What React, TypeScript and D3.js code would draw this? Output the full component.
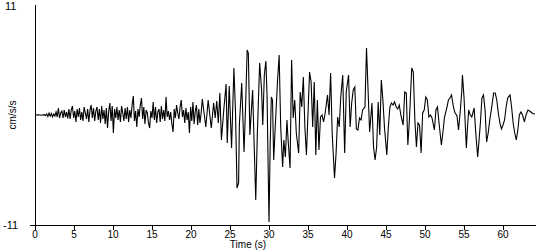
import React from "react";
import * as d3 from "d3";

// ---- data ----
const xTicks = [0, 5, 10, 15, 20, 25, 30, 35, 40, 45, 50, 55, 60];
const yLabels = [11, -11];
const xDomain = [0, 64.23];
const yDomain = [-11, 11];

// quiet start [time s, value]
const quietSegment: [number, number][] = [
  [0, 0], [0.4, 0.03], [0.8, -0.03], [1.2, 0.04], [1.35, -0.05],
];

// early noise, sampled every noiseStep seconds from noiseStart
const noiseStart = 1.5;
const noiseStep = 0.15;
const noiseValues = [
  0.1, -0.15, 0.2, -0.1, 0.15, -0.2, 0.1, -0.1,
  0.3, -0.2, 0.7, -0.3, 0.2, 0.4, -0.3, 0.5, -0.2, 0.3, -0.35, 0.6,
  -0.4, 0.5, 0.9, -0.3, 0.4, -0.7, 0.6, -0.2,
  0.7, -0.5, 0.3, -0.6, 0.8, 0.2, -0.4, 0.6, -0.7, 0.5,
  1.0, -0.3, 0.7, -0.6, 0.4, 0.8, -0.5, 0.6, -0.8,
  0.9, -0.4, 0.5, -0.9, 0.7, -1.3, 0.4, 1.2, -0.6, 0.9, -1.8, 0.6, -0.3,
  0.8, -0.5, 0.5, -0.7, 0.9, 0.2, -0.6, 0.7, -0.4, 0.8, -0.7, 0.5,
  -0.3, 1.0, 1.9, -0.6, 0.4, -1.2, 0.6, -0.2, 1.0,
  1.7, -0.4, 0.8, -0.9, 0.5, 0.2, -0.8, -1.3, 0.4, -0.3, 1.3,
  -0.5, 0.8, -0.8, 0.3, 0.6, -0.7, 0.9, -0.4, 0.5, -0.6,
  1.8, -0.2, 0.4, -0.5, 0.3, -0.9,
  -1.7, 0.6, -0.3, 1.0, 0.2, -0.4, 0.8,
  1.5, -0.2, 0.5, -0.8, 0.7, -0.5, 0.3,
  -1.8, 0.8, -0.6, 1.3, -0.9, 0.4, 1.0, -1.0, 0.6, -0.8, 0.2, 1.6,
];

// strong motion [time s, value]
const strongMotion: [number, number][] = [
  [21.9, -1.2], [22.2, 1.5], [22.6, -1.3], [22.9, 1.2], [23.1, -0.3], [23.3, 1.4],
  [23.5, -0.8], [23.7, 2.2], [23.9, -2.5], [24.2, 0.5], [24.5, 3.1], [24.65, -2.8],
  [24.9, 2.9], [25.2, -3.3], [25.5, 4.7], [25.7, 0.5], [25.9, -7.3], [26.1, -6.8],
  [26.2, -1], [26.5, 3.2], [26.8, -3.7], [27.0, 1.0], [27.2, 6.5], [27.35, 6.2],
  [27.55, -2.0], [27.9, 2.5], [28.1, -3], [28.3, -8.5], [28.5, -2], [28.8, 5.2],
  [29.05, 2.5], [29.2, -1], [29.4, 4], [29.6, 5.4], [29.75, 2], [30.0, -10.7],
  [30.15, -3], [30.3, 1.8], [30.45, 1.5], [30.6, -4.5], [30.8, -1.2], [31.1, 3.5],
  [31.3, 6.0], [31.5, -1.2], [31.75, -5.2], [31.9, -2.5], [32.1, -4.2], [32.3, -0.5],
  [32.45, -2.5], [32.7, -5.3], [32.9, 5.5], [33.1, -0.3], [33.3, 1.5], [33.5, -1.8],
  [33.8, -3.8], [34.0, 2.3], [34.2, 0.8], [34.4, 3.8], [34.6, -1.2], [34.8, -4.0],
  [35.2, 4.3], [35.4, 3.3], [35.6, -1.2], [35.8, 3.3], [36.0, -4.0], [36.2, 1.5],
  [36.4, -3.5], [36.6, -0.2], [36.8, 0], [37.0, -0.7], [37.2, 0.2], [37.5, 2.0],
  [37.7, 0], [37.9, 4.2], [38.1, -1.8], [38.4, -6.3], [38.6, -3.8], [38.8, -0.2],
];

// coda [time s, value]
const codaMotion: [number, number][] = [
  [39.0, -1.2], [39.2, 1.8], [39.45, 4.0], [39.7, -3.8], [39.9, 2.3], [40.2, 4.0],
  [40.4, -1.2], [40.6, 1.2], [40.8, 2.5], [41.0, 2.8], [41.2, -1.4], [41.4, -1.5],
  [41.6, -0.3], [41.8, -0.5], [42.0, 0.5], [42.3, 0.8], [42.5, 6.7], [42.7, 2.5],
  [42.9, -1.7], [43.2, 1.2], [43.4, -3.2], [43.6, -4.5], [43.8, -3.2], [44.0, 1.3],
  [44.2, -2.0], [44.4, 3.5], [44.6, 1.5], [44.8, -1.2], [45.1, -4.0], [45.3, -1.2],
  [45.5, 0.8], [45.7, 1.2], [45.9, 1.0], [46.1, 1.3], [46.3, 0.8], [46.5, 0.6],
  [46.7, 1.0], [46.9, 0], [47.2, -1.0], [47.4, 2.3], [47.6, 2.2], [47.8, -3.0],
  [48.0, -0.5], [48.3, 4.7], [48.5, 4.3], [48.7, -0.5], [48.9, -3.2], [49.1, -0.8],
  [49.3, -1.0], [49.5, -3.8], [49.7, 0.2], [49.9, 0.5], [50.1, 1.8], [50.3, 1.5],
  [50.5, -0.2], [50.7, 0], [50.9, -0.3], [51.2, -1.5], [51.4, 0.5], [51.6, 0.8],
  [51.8, -0.8], [52.1, -3.0], [52.3, -1.7], [52.5, -0.2], [52.8, 0.7], [53.0, 1.5],
  [53.2, 1.7], [53.4, 2.0], [53.6, 1.0], [53.8, 0.3], [54.1, -0.1], [54.3, -1.5],
  [54.5, 0.2], [54.7, 2.2], [54.8, 4.0], [55.0, 1.8], [55.3, -3.3], [55.45, -1.2],
  [55.6, 0.5], [55.8, 0], [56.0, -0.2], [56.3, 0.7], [56.5, -1.7], [56.75, -4.2],
  [56.9, -2.8], [57.1, -0.8], [57.3, 1.7], [57.5, 2.0], [57.7, 0.5], [57.9, -2.7],
  [58.1, -1.8], [58.3, -0.5], [58.5, 0.5], [58.8, 2.2], [59.0, 2.2], [59.2, 1.5],
  [59.4, 0.2], [59.6, -0.8], [59.8, -1.4], [60.0, -1.0], [60.2, -0.5], [60.4, 0.8],
  [60.6, 1.7], [60.9, 2.0], [61.1, 0.8], [61.3, -0.8], [61.5, -1.8], [61.7, -2.5],
  [61.9, -1.5], [62.1, 0], [62.3, 0.3], [62.5, 0], [62.75, -0.7], [62.95, 0],
  [63.2, 0.5], [63.5, 0.35], [63.8, 0.15], [64.1, 0.1],
];

const W = 550;
const H = 250;

export default function App() {
  const x = d3.scaleLinear().domain(xDomain).range([35, 536]);
  const y = d3.scaleLinear().domain(yDomain).range([225, 5]);

  const noise: [number, number][] = noiseValues.map((v, i) => [noiseStart + i * noiseStep, v]);
  const trace: [number, number][] = [...quietSegment, ...noise, ...strongMotion, ...codaMotion];

  const line = d3
    .line<[number, number]>()
    .x((d) => x(d[0]))
    .y((d) => y(d[1]));

  const font = "Arial, 'Liberation Sans', sans-serif";
  const x0 = x(0);
  const yBottom = y(-11);
  const yTop = y(11);

  return (
    <svg
      width={W}
      height={H}
      style={{ position: "absolute", left: 0, top: 0, background: "#fff" }}
      fontFamily={font}
    >
      <rect width={W} height={H} fill="#fff" />
      {/* y axis */}
      <line x1={x0 + 0.5} x2={x0 + 0.5} y1={yTop} y2={yBottom} stroke="#000" strokeWidth={1} shapeRendering="crispEdges" />
      {/* x axis */}
      <line x1={30} x2={536} y1={yBottom + 0.5} y2={yBottom + 0.5} stroke="#000" strokeWidth={1} shapeRendering="crispEdges" />
      {xTicks.map((t) => (
        <g key={t}>
          <line
            x1={Math.round(x(t)) + 0.5}
            x2={Math.round(x(t)) + 0.5}
            y1={yBottom}
            y2={yBottom + 5}
            stroke="#000"
            shapeRendering="crispEdges"
          />
          <text x={x(t)} y={238} fontSize={10} textAnchor="middle" fill="#000">
            {t}
          </text>
        </g>
      ))}
      {yLabels.map((v) => (
        <text key={v} x={v < 0 ? 3 : 5} y={y(v) + (v < 0 ? 4 : 5)} fontSize={11} fill="#000">
          {v}
        </text>
      ))}
      <text x={248} y={248} fontSize={10} textAnchor="middle" fill="#000">
        Time (s)
      </text>
      <text
        transform={`translate(16,${y(0)}) rotate(-90)`}
        fontSize={10}
        textAnchor="middle"
        fill="#000"
      >
        cm/s/s
      </text>
      <path d={line(trace) || ""} fill="none" stroke="#000" strokeWidth={1.1} strokeLinejoin="miter" />
    </svg>
  );
}
